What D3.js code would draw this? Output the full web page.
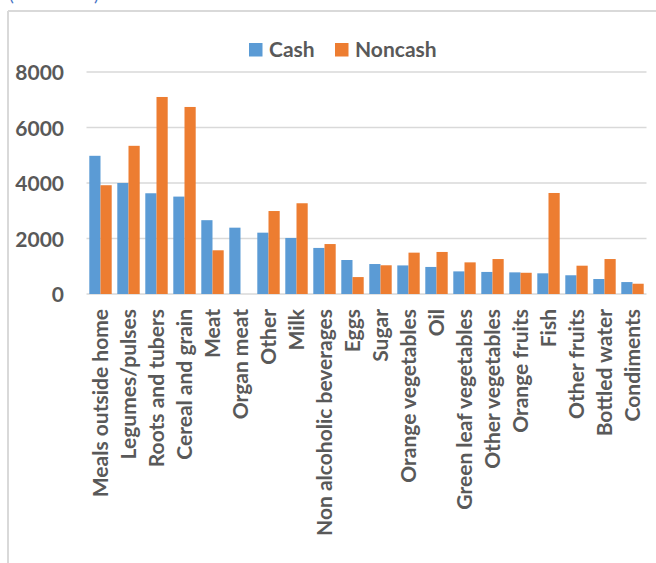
<!DOCTYPE html>
<html>
<head>
<meta charset="utf-8">
<script src="https://cdn.jsdelivr.net/npm/d3@7/dist/d3.min.js"></script>
<style>
  html, body { margin: 0; padding: 0; background: #fff; }
  svg { display: block; }
  text { font-family: Lato, "Open Sans", sans-serif; font-weight: 700; fill: #595959; }
</style>
</head>
<body>
<svg id="chart" width="656" height="563"></svg>
<script>
// Food expenditure by item, cash vs noncash
const categories = [
  "Meals outside home", "Legumes/pulses", "Roots and tubers", "Cereal and grain",
  "Meat", "Organ meat", "Other", "Milk", "Non alcoholic beverages", "Eggs",
  "Sugar", "Orange vegetables", "Oil", "Green leaf vegetables", "Other vegetables",
  "Orange fruits", "Fish", "Other fruits", "Bottled water", "Condiments"
];
const cash = [4980, 4000, 3630, 3510, 2660, 2390, 2210, 2020, 1660, 1225,
              1080, 1030, 975, 815, 795, 780, 745, 675, 540, 430];
const noncash = [3920, 5340, 7100, 6740, 1575, 0, 2990, 3270, 1800, 610,
                 1035, 1490, 1515, 1140, 1260, 765, 3640, 1020, 1260, 370];
const seriesNames = ["Cash", "Noncash"];
const seriesColors = ["#5B9BD5", "#ED7D31"];
const yTicks = [0, 2000, 4000, 6000, 8000];

const FONT = "Lato, 'Open Sans', sans-serif";
const svg = d3.select("#chart");

// outer frame (left and top edges)
svg.append("line").attr("x1", 8).attr("x2", 8).attr("y1", 11).attr("y2", 563)
  .attr("stroke", "#D9D9D9").attr("stroke-width", 2);
svg.append("line").attr("x1", 8).attr("x2", 656).attr("y1", 11).attr("y2", 11)
  .attr("stroke", "#D9D9D9").attr("stroke-width", 2);

// caption above the frame, mostly out of view
svg.append("text").attr("x", 9).attr("y", 1).attr("font-size", 18)
  .style("fill", "#4472C4").style("font-weight", 400).text("(");
svg.append("text").attr("x", 94).attr("y", 1).attr("font-size", 18)
  .style("fill", "#4472C4").style("font-weight", 400).text(")");

const plot = { left: 86.5, right: 646.5, top: 72, bottom: 294 };

const x0 = d3.scaleBand().domain(categories).range([plot.left, plot.right])
  .paddingInner(0.2).paddingOuter(0.1);
const x1 = d3.scaleBand().domain(seriesNames).range([0, x0.bandwidth()]);
const y = d3.scaleLinear().domain([0, 8000]).range([plot.bottom, plot.top]);

// gridlines
svg.append("g").selectAll("line").data(yTicks).join("line")
  .attr("x1", plot.left).attr("x2", plot.right)
  .attr("y1", d => y(d)).attr("y2", d => y(d))
  .attr("stroke", "#D9D9D9").attr("stroke-width", 1.5);

// y-axis labels
const yAxis = d3.axisLeft(y).tickValues(yTicks).tickSize(0).tickPadding(0).tickFormat(d3.format("d"));
const gy = svg.append("g").attr("transform", `translate(64,0)`).call(yAxis);
gy.select(".domain").remove();
gy.selectAll("text").attr("font-size", 21).attr("dy", "0.36em")
  .style("font-family", FONT).style("font-weight", 700).style("fill", "#595959");

// bars
const groups = svg.append("g").selectAll("g").data(categories).join("g")
  .attr("transform", d => `translate(${x0(d)},0)`);
groups.selectAll("rect")
  .data((d, i) => [{ s: "Cash", v: cash[i] }, { s: "Noncash", v: noncash[i] }])
  .join("rect")
  .attr("x", d => x1(d.s))
  .attr("width", x1.bandwidth())
  .attr("y", d => y(d.v))
  .attr("height", d => y(0) - y(d.v))
  .attr("fill", (d, i) => seriesColors[i]);

// category labels
const xAxis = d3.axisBottom(x0).tickSize(0).tickPadding(0);
const gx = svg.append("g").attr("transform", `translate(0,${plot.bottom})`).call(xAxis);
gx.select(".domain").remove();
gx.selectAll("text")
  .attr("transform", "rotate(-90)")
  .attr("x", -15).attr("y", 0).attr("dy", "0.36em")
  .attr("text-anchor", "end")
  .attr("font-size", 21)
  .style("font-family", FONT).style("font-weight", 700).style("fill", "#595959");

// legend
const legend = svg.append("g");
const legendItems = [{ name: "Cash", x: 249 }, { name: "Noncash", x: 335 }];
legendItems.forEach((it, i) => {
  legend.append("rect").attr("x", it.x).attr("y", 43).attr("width", 13.5).attr("height", 13.5)
    .attr("fill", seriesColors[i]);
  legend.append("text").attr("x", it.x + 20).attr("y", 57).attr("font-size", 21).text(it.name);
});
</script>
</body>
</html>
